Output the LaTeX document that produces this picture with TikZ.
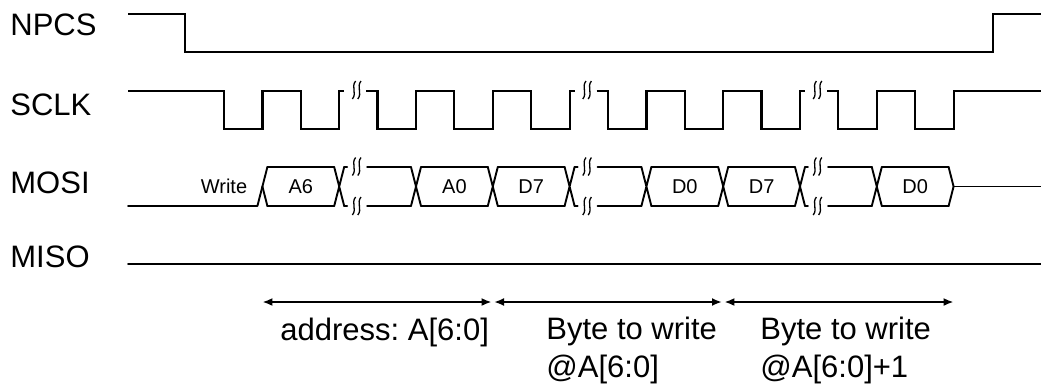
\documentclass[tikz,border=0pt]{standalone}
\usepackage{fontspec}
\setmainfont{Liberation Sans}
\usetikzlibrary{arrows.meta}
% x position of the k-th rising clock edge
\newcommand\clkx[1]{(262.4+76.8*(#1))}
\tikzset{
    sig/.style={line width=1.1pt, line join=miter},
    busline/.style={line width=0.95pt, line cap=round, line join=round},
    lbl/.style={font=\fontsize{15.5}{19}\selectfont, anchor=base west, inner sep=0pt, align=left},
    val/.style={font=\fontsize{10}{12}\selectfont, inner sep=0pt},
    span/.style={line width=1pt, arrows={Latex[length=5pt,width=4pt]-Latex[length=5pt,width=4pt]}},
    gap/.pic={
        \foreach \dx in {-2.7,2.7}
            \draw[line width=0.65pt] (\dx+1.6,-9) .. controls (\dx-3.2,-3) and (\dx+3.2,3) .. (\dx-1.6,9);
    }
}
\begin{document}
\frenchspacing
\begin{tikzpicture}[x=0.5pt, y=-0.5pt]
    \useasboundingbox (0,0) rectangle (1041,388);

    \node[lbl] (npcs) at (10,35) {NPCS};
    \node[lbl] (sclk) at (10,115) {SCLK};
    \node[lbl] (mosi) at (10,193) {MOSI};
    \node[lbl] (miso) at (10,267) {MISO};

    % NPCS
    \draw[sig] (128,14) -- (185,14) -- (185,52) -- (993,52) -- (993,14) -- (1041,14);

    % SCLK
    \draw[sig] (128,91) foreach \k in {0,1} { -- ({\clkx{\k}-38.6},91) -- ++(0,38) -- ({\clkx{\k}},129) -- ++(0,-38) } -- ++(5,0);
    \draw[sig] ({\clkx{1}+27},91) foreach \k in {2,3,4} { -- ({\clkx{\k}-38.6},91) -- ++(0,38) -- ({\clkx{\k}},129) -- ++(0,-38) } -- ++(5,0);
    \draw[sig] ({\clkx{4}+27},91) foreach \k in {5,6,7} { -- ({\clkx{\k}-38.6},91) -- ++(0,38) -- ({\clkx{\k}},129) -- ++(0,-38) } -- ++(5,0);
    \draw[sig] ({\clkx{7}+27},91) foreach \k in {8,9} { -- ({\clkx{\k}-38.6},91) -- ++(0,38) -- ({\clkx{\k}},129) -- ++(0,-38) } -- (1041,91);

    % MOSI
    \node[val] (wr) at (224,186) {Write};
    \draw[busline] (128,206) -- ({\clkx{0}-5},206) -- ({\clkx{0}+5},167);
    \draw[busline] ({\clkx{0}},186.5) -- ({\clkx{0}+5},206);
    \foreach \k in {1,...,8}
        \draw[busline] ({\clkx{\k}-5},167) -- ({\clkx{\k}+5},206) ({\clkx{\k}-5},206) -- ({\clkx{\k}+5},167);
    \foreach \k in {0,2,3,5,6,8}
        \draw[busline] ({\clkx{\k}+5},167) -- ({\clkx{\k+1}-5},167) ({\clkx{\k}+5},206) -- ({\clkx{\k+1}-5},206);
    \foreach \k in {1,4,7} {
        \draw[busline] ({\clkx{\k}+5},167) -- ++(3,0) ({\clkx{\k}+28},167) -- ({\clkx{\k+1}-5},167);
        \draw[busline] ({\clkx{\k}+5},206) -- ++(3,0) ({\clkx{\k}+28},206) -- ({\clkx{\k+1}-5},206);
        \pic at ({\clkx{\k}+17.5},90) {gap};
        \pic at ({\clkx{\k}+17.5},166.5) {gap};
        \pic at ({\clkx{\k}+17.5},206) {gap};
    }
    \draw[busline] ({\clkx{9}-5},167) -- ({\clkx{9}},186.5) -- ({\clkx{9}-5},206);
    \draw[busline] ({\clkx{9}},186.5) -- (1041,186.5);
    \foreach \k/\v/\nm in {0/A6/a6, 2/A0/a0, 3/D7/d7a, 5/D0/d0a, 6/D7/d7b, 8/D0/d0b}
        \node[val] (\nm) at ({\clkx{\k+0.5}},187) {\v};

    % MISO
    \draw[busline] (128,264) -- (1041,264);

    % byte spans
    \coordinate (s0) at ({\clkx{0}},302);
    \coordinate (s1) at ({\clkx{3}},302);
    \coordinate (s2) at ({\clkx{6}},302);
    \coordinate (s3) at ({\clkx{9}},302);
    \draw[span] (s0) -- ([xshift=-0.6pt]s1);
    \draw[span] ([xshift=0.6pt]s1) -- ([xshift=-0.6pt]s2);
    \draw[span] ([xshift=0.6pt]s2) -- (s3);
    \node[lbl] (addr) at (280,340) {address: A[6:0]};
    \node[lbl] (byte1) at (546,377) {Byte to write\\@A[6:0]};
    \node[lbl] (byte2) at (760,377) {Byte to write\\@A[6:0]+1};
\end{tikzpicture}
\end{document}
